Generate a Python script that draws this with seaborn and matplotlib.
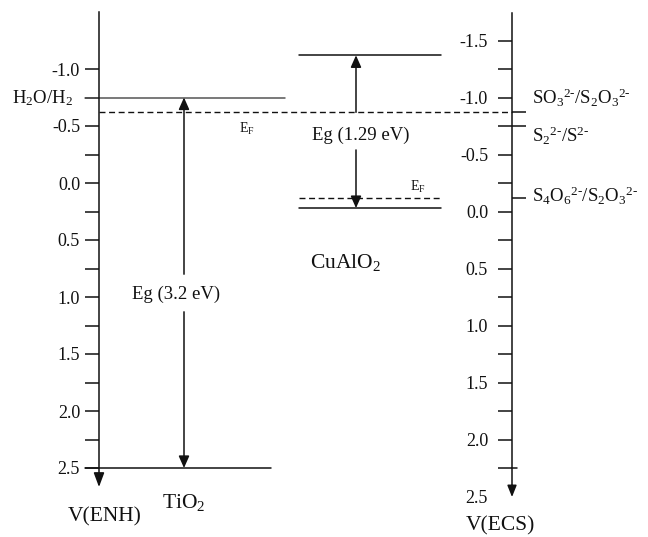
import numpy as np
import pandas as pd
import matplotlib
matplotlib.use("Agg")
import matplotlib.pyplot as plt
import seaborn as sns

# ---------------- data (V vs ENH unless stated) ----------------
tio2_cb = -0.75          # also H2O/H2 level
tio2_vb = 2.50
tio2_ef = -0.62
cualo2_cb = -1.12
cualo2_vb = 0.22
cualo2_ef = 0.13
ecs_offset = 0.25        # V(ECS) = V(ENH) - offset
redox_labels = [r"SO$_3$$^{2\text{-}}$/S$_2$O$_3$$^{2\text{-}}$",
                r"S$_2$$^{2\text{-}}$/S$^{2\text{-}}$",
                r"S$_4$O$_6$$^{2\text{-}}$/S$_2$O$_3$$^{2\text{-}}$"]
redox_ecs = [-0.87, -0.75, -0.12]
enh_major = [-1.0, -0.5, 0.0, 0.5, 1.0, 1.5, 2.0, 2.5]
enh_minor = [-0.75, -0.25, 0.25, 0.75, 1.25, 1.75, 2.25]
ecs_major = [-1.5, -1.0, -0.5, 0.0, 0.5, 1.0, 1.5, 2.0, 2.5]
ecs_minor = [-1.25, -0.75, -0.25, 0.25, 0.75, 1.25, 1.75, 2.25]
eg_labels = ["Eg (3.2 eV)", "Eg (1.29 eV)"]

# ---------------- style ----------------
sns.set_theme(style="white")
plt.rcParams["font.family"] = ["Liberation Serif", "DejaVu Serif"]
plt.rcParams["mathtext.fontset"] = "custom"
plt.rcParams["mathtext.rm"] = "Liberation Serif"
plt.rcParams["mathtext.it"] = "Liberation Serif:italic"
plt.rcParams["mathtext.bf"] = "Liberation Serif:bold"
plt.rcParams["mathtext.default"] = "regular"

INK = "#111111"
LW = 1.1
TICK_FS = 13
TXT_FS = 13.5
BIG_FS = 15.5

# layout (figure pixels horizontally)
X_LEFT_AX = 99
X_RIGHT_AX = 512
YLIM = ((537 - 183) / 114.0, -183 / 114.0)

fig = plt.figure(figsize=(6.48, 5.37), dpi=100)
ax = fig.add_axes([0, 0, 1, 1])
ax.patch.set_alpha(0)

# ---------------- energy levels via seaborn ----------------
solid = pd.DataFrame({
    "seg": ["tio2_cb", "tio2_cb", "tio2_vb", "tio2_vb", "cu_cb", "cu_cb", "cu_vb", "cu_vb"],
    "x": [85, 285, 85, 271, 299, 441, 299, 441],
    "E": [tio2_cb, tio2_cb, tio2_vb, tio2_vb, cualo2_cb, cualo2_cb, cualo2_vb, cualo2_vb],
})
dashed = pd.DataFrame({
    "seg": ["tio2_ef", "tio2_ef", "cu_ef", "cu_ef"],
    "x": [X_LEFT_AX, X_RIGHT_AX, 299, 441],
    "E": [tio2_ef, tio2_ef, cualo2_ef, cualo2_ef],
})
for seg, sub in solid.groupby("seg", sort=False):
    sns.lineplot(data=sub, x="x", y="E", estimator=None, sort=False, ax=ax,
                 color="#555555" if seg == "tio2_cb" else INK, lw=LW)
for seg, sub in dashed.groupby("seg", sort=False):
    sns.lineplot(data=sub, x="x", y="E", estimator=None, sort=False, ax=ax,
                 color=INK, lw=1.0, linestyle=(0, (4.3, 2.6)))

# redox couple markers on the ECS axis
for lab, v in zip(redox_labels, redox_ecs):
    e = v + ecs_offset
    ax.plot([X_RIGHT_AX, 526], [e, e], color=INK, lw=LW, solid_capstyle="butt")
ax.plot([X_RIGHT_AX, 517], [2.25 + ecs_offset] * 2, color=INK, lw=LW)

label_pos = [(532, -0.69), (532, -0.36), (532, 0.167)]
for lab, (px, e) in zip(redox_labels, label_pos):
    ax.text(px, e, lab, fontsize=TXT_FS, ha="left", va="baseline", color=INK)

# ---------------- band-gap arrows ----------------
def arrow(x, y0, y1, hl=0.72, hw=0.32):
    ax.annotate("", xy=(x, y1), xytext=(x, y0),
                arrowprops=dict(arrowstyle=f"-|>,head_length={hl},head_width={hw}",
                                mutation_scale=10, lw=LW, color=INK,
                                shrinkA=0, shrinkB=0))

arrow(184, 0.80, tio2_cb)
arrow(184, 1.13, tio2_vb)
arrow(356, tio2_ef, cualo2_cb)
arrow(356, -0.29, cualo2_vb)

ax.text(176, 0.974, eg_labels[0], fontsize=TXT_FS, ha="center", va="center", color=INK)
ax.text(361, -0.42, eg_labels[1], fontsize=TXT_FS, ha="center", va="center", color=INK)

# Fermi labels
ax.text(239, -0.47, r"E$_\mathrm{F}$", fontsize=10, ha="left", va="center", color=INK)
ax.text(410, 0.035, r"E$_\mathrm{F}$", fontsize=10, ha="left", va="center", color=INK)

# other labels
ax.text(12, -0.70, r"H$_2$O/H$_2$", fontsize=TXT_FS, ha="left", va="baseline", color=INK)
ax.text(184, 2.85, r"TiO$_2$", fontsize=BIG_FS, ha="center", va="baseline", color=INK)
ax.text(345, 0.746, r"CuAlO$_2$", fontsize=BIG_FS, ha="center", va="baseline", color=INK)
ax.text(105, 2.965, "V(ENH)", fontsize=BIG_FS, ha="center", va="baseline", color=INK)
ax.text(500, 3.045, "V(ECS)", fontsize=BIG_FS, ha="center", va="baseline", color=INK)

# ---------------- left (ENH) axis ----------------
ax.set_xlim(0, 648)
ax.set_ylim(*YLIM)
for s in ["top", "right", "bottom"]:
    ax.spines[s].set_visible(False)
ax.spines["left"].set_position(("data", X_LEFT_AX))
ax.spines["left"].set_bounds(-1.5, 2.58)
ax.spines["left"].set_color(INK)
ax.spines["left"].set_linewidth(LW)
ax.set_xticks([])
ax.set_yticks(enh_major)
ax.set_yticklabels([f"{v:.1f}" for v in enh_major])
ax.set_yticks(enh_minor, minor=True)
ax.tick_params(axis="y", which="both", direction="out", length=10, width=LW,
               color=INK, labelsize=TICK_FS, pad=3.6, left=True, labelcolor=INK)
ax.set_xlabel("")
ax.set_ylabel("")
arrow(X_LEFT_AX, 2.55, 2.667, hl=0.86, hw=0.32)

# ---------------- right (ECS) axis ----------------
ax_r = fig.add_axes([0, 0, 1, 1])
ax_r.patch.set_alpha(0)
ax_r.set_xlim(0, 648)
ax_r.set_ylim(YLIM[0] - ecs_offset, YLIM[1] - ecs_offset)
for s in ["top", "right", "bottom"]:
    ax_r.spines[s].set_visible(False)
ax_r.spines["left"].set_position(("data", X_RIGHT_AX))
ax_r.spines["left"].set_bounds(-1.745, 2.44)
ax_r.spines["left"].set_color(INK)
ax_r.spines["left"].set_linewidth(LW)
ax_r.set_xticks([])
ax_r.set_yticks(ecs_major)
ax_r.set_yticklabels([f"{v:.1f}" for v in ecs_major])
ax_r.set_yticks(ecs_minor, minor=True)
ax_r.tick_params(axis="y", which="both", direction="out", length=10, width=LW,
                 color=INK, labelsize=TICK_FS, pad=7.2, left=True, labelcolor=INK)
ax_r.yaxis.get_major_ticks()[-1].tick1line.set_visible(False)
ax_r.annotate("", xy=(X_RIGHT_AX, 2.505), xytext=(X_RIGHT_AX, 2.40),
              arrowprops=dict(arrowstyle="-|>,head_length=0.7,head_width=0.28",
                              mutation_scale=10, lw=LW, color=INK,
                              shrinkA=0, shrinkB=0))

fig.savefig("out.png", dpi=100)
